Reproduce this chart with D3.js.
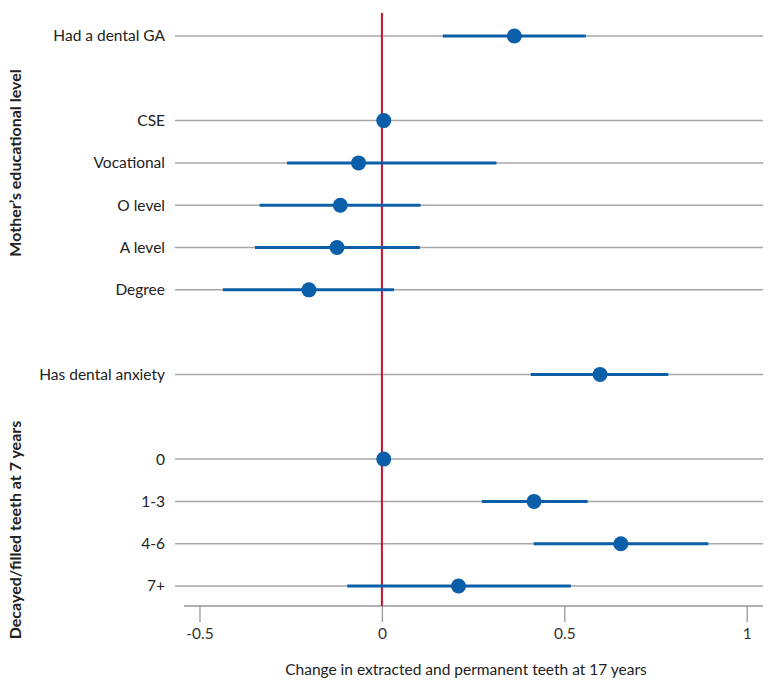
<!DOCTYPE html>
<html><head><meta charset="utf-8">
<script src="https://cdn.jsdelivr.net/npm/d3@7"></script>
<style>
body{margin:0;background:#fff;}
text{font-family:Lato,"Liberation Sans",Arial,sans-serif;}
</style></head>
<body><svg id="c" width="769" height="683"></svg>
<script>
const labels = ["Had a dental GA","CSE","Vocational","O level","A level","Degree","Has dental anxiety","0","1-3","4-6","7+"];
const rowIndex = [0,2,3,4,5,6,8,10,11,12,13];
const estimates = [0.363,0.005,-0.064,-0.114,-0.123,-0.200,0.598,0.005,0.417,0.655,0.210];
const lower = [0.167,null,-0.260,-0.335,-0.348,-0.436,0.408,null,0.274,0.416,-0.095];
const upper = [0.559,null,0.314,0.106,0.104,0.033,0.785,null,0.564,0.895,0.518];
const xTicks = [-0.5,0,0.5,1];
const xTickLabels = ["-0.5","0","0.5","1"];
const groupLabels = ["Mother\u2019s educational level","Decayed/filled teeth at 7 years"];
const xTitle = "Change in extracted and permanent teeth at 17 years";

const FONT = 'Lato,"Liberation Sans",Arial,sans-serif';
const svg = d3.select("#c");
const x = d3.scaleLinear().domain([-0.5,1]).range([199.5,746.7]);
const y = d3.scaleLinear().domain([0,13]).range([36,586]);
const blue = "#0b5ea8", red = "#c8102e", grey = "#a8a8a8";
const data = labels.map((l,i)=>({label:l,row:rowIndex[i],est:estimates[i],lo:lower[i],hi:upper[i]}));

// gridlines
svg.append("g").selectAll("line").data(data).join("line")
  .attr("x1",175).attr("x2",763)
  .attr("y1",d=>y(d.row)).attr("y2",d=>y(d.row))
  .attr("stroke",grey).attr("stroke-width",1.5);

// row labels
svg.append("g").selectAll("text").data(data).join("text")
  .attr("x",165).attr("y",d=>y(d.row)).attr("dy","0.35em")
  .attr("text-anchor","end").attr("font-size",15.5).attr("fill","#222")
  .text(d=>d.label);

// x axis
const xAxis = d3.axisBottom(x).tickValues(xTicks).tickFormat((d,i)=>xTickLabels[i]).tickSize(16).tickPadding(6);
const ax = svg.append("g").attr("transform","translate(0,606)").call(xAxis);
ax.select(".domain").remove();
ax.selectAll(".tick line").attr("stroke","#999").attr("stroke-width",1.3);
ax.selectAll(".tick text").attr("font-size",15.5).attr("fill","#333").attr("font-family",FONT);
svg.append("line").attr("x1",184).attr("x2",763).attr("y1",606).attr("y2",606)
  .attr("stroke","#999").attr("stroke-width",1.5);

// red zero line
svg.append("line").attr("x1",x(0)).attr("x2",x(0)).attr("y1",13).attr("y2",606)
  .attr("stroke",red).attr("stroke-width",2);

// CI lines
svg.append("g").selectAll("line").data(data.filter(d=>d.lo!==null)).join("line")
  .attr("x1",d=>x(d.lo)).attr("x2",d=>x(d.hi))
  .attr("y1",d=>y(d.row)).attr("y2",d=>y(d.row))
  .attr("stroke",blue).attr("stroke-width",3);

// points
svg.append("g").selectAll("circle").data(data).join("circle")
  .attr("cx",d=>x(d.est)).attr("cy",d=>y(d.row)).attr("r",7.5).attr("fill",blue);

// group labels
svg.append("text").attr("transform","translate(15,163) rotate(-90)")
  .attr("dy","0.35em").attr("text-anchor","middle").attr("font-size",16).attr("font-weight","bold").attr("fill","#222")
  .text(groupLabels[0]);
svg.append("text").attr("transform","translate(15,530) rotate(-90)")
  .attr("dy","0.35em").attr("text-anchor","middle").attr("font-size",16).attr("font-weight","bold").attr("fill","#222")
  .text(groupLabels[1]);

// x title
svg.append("text").attr("x",466).attr("y",670).attr("dy","0.35em")
  .attr("text-anchor","middle").attr("font-size",15.5).attr("fill","#222").text(xTitle);
</script></body></html>
